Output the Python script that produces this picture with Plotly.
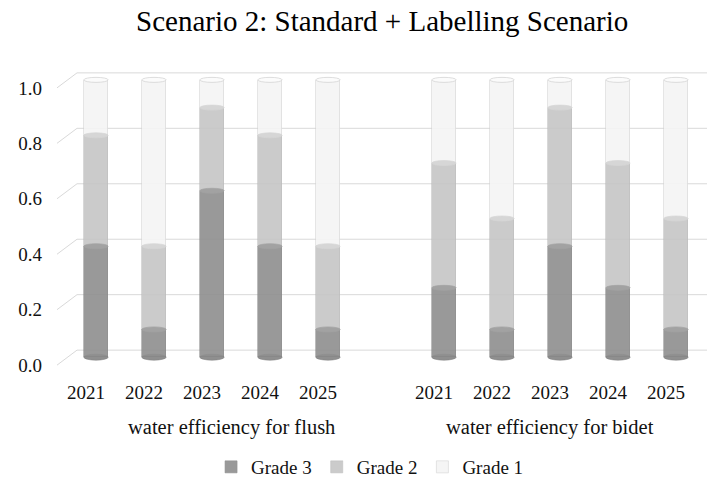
import plotly.graph_objects as go

# Category labels
years = ["2021", "2022", "2023", "2024", "2025"]
group_names = ["water efficiency for flush", "water efficiency for bidet"]
series_names = ["Grade 3", "Grade 2", "Grade 1"]

# Shares by grade, one list per product group
flush_grade3 = [0.4, 0.1, 0.6, 0.4, 0.1]
flush_grade2 = [0.4, 0.3, 0.3, 0.4, 0.3]
flush_grade1 = [0.2, 0.6, 0.1, 0.2, 0.6]

bidet_grade3 = [0.25, 0.1, 0.4, 0.25, 0.1]
bidet_grade2 = [0.45, 0.4, 0.5, 0.45, 0.4]
bidet_grade1 = [0.3, 0.5, 0.1, 0.3, 0.5]

y_ticks = [0.0, 0.2, 0.4, 0.6, 0.8, 1.0]

# Styling
colors = ["#8f8f8f", "#c6c6c6", "#f5f5f5"]
cap_colors = ["#a2a2a2", "#d6d6d6", "#fbfbfb"]
edge_colors = ["#838383", "#b8b8b8", "#d0d0d0"]
serif = "Liberation Serif, Times New Roman, serif"
text_col = "#111111"
bar_w = 0.42
depth_dx, depth_dy = 10, 7  # half-depth of the pseudo-3D box, in px

# Slot positions: flush group, one empty slot, bidet group
pos_flush = list(range(0, 5))
pos_bidet = list(range(6, 11))
positions = pos_flush + pos_bidet
tick_text = years + years

series = [
    flush_grade3 + bidet_grade3,
    flush_grade2 + bidet_grade2,
    flush_grade1 + bidet_grade1,
]

fig = go.Figure()
for name, vals, col, edge in zip(series_names, series, colors, edge_colors):
    fig.add_trace(go.Bar(
        x=positions, y=vals, name=name, width=bar_w,
        marker=dict(color=col, line=dict(color=edge, width=0.6)),
        opacity=0.9,
    ))

shapes = []

# Back-wall gridlines and the slanted side edges
for v in y_ticks:
    shapes.append(dict(
        type="line", xref="paper", xsizemode="pixel", xanchor=0,
        x0=depth_dx, x1=640,
        yref="y", ysizemode="pixel", yanchor=v, y0=depth_dy, y1=depth_dy,
        line=dict(color="#d9d9d9", width=1), layer="below",
    ))
    shapes.append(dict(
        type="line", xref="paper", xsizemode="pixel", xanchor=0,
        x0=-depth_dx, x1=depth_dx,
        yref="y", ysizemode="pixel", yanchor=v, y0=-depth_dy - 1, y1=depth_dy,
        line=dict(color="#d9d9d9", width=1), layer="below",
    ))

# Elliptical faces that give each stacked segment a cylinder look
for i, p in enumerate(positions):
    shapes.append(dict(
        type="circle", xref="x", x0=p - bar_w / 2, x1=p + bar_w / 2,
        yref="y", ysizemode="pixel", yanchor=0, y0=-3, y1=3,
        fillcolor=colors[0], line=dict(color=edge_colors[0], width=0.6),
        layer="below",
    ))
    cum = 0.0
    for k in range(len(series)):
        cum += series[k][i]
        shapes.append(dict(
            type="circle", xref="x", x0=p - bar_w / 2, x1=p + bar_w / 2,
            yref="y", ysizemode="pixel", yanchor=round(cum, 6), y0=-2.5, y1=2.5,
            fillcolor=cap_colors[k],
            line=dict(color=edge_colors[k] if k == 2 else cap_colors[k], width=0.7),
            layer="above",
        ))

# Group labels under the year labels
annotations = []
for name, center in [(group_names[0], 2.5), (group_names[1], 8.0)]:
    annotations.append(dict(
        text=name, x=center, xref="x", y=0, yref="paper",
        xshift=-depth_dx, yshift=-56, yanchor="middle", showarrow=False,
        font=dict(family=serif, size=20.5, color=text_col),
    ))

fig.update_layout(
    width=708, height=484,
    margin=dict(l=67, r=3, t=66, b=113, autoexpand=False),
    paper_bgcolor="white", plot_bgcolor="rgba(0,0,0,0)",
    barmode="stack", bargap=0,
    title=dict(
        text="Scenario 2: Standard + Labelling Scenario",
        x=0.494, xref="paper", xanchor="center",
        y=1 - 21 / 484, yref="container", yanchor="middle",
        font=dict(family=serif, size=29, color="#000000"),
    ),
    xaxis=dict(
        range=[-0.5, 10.5], tickmode="array", tickvals=positions, ticktext=tick_text,
        showgrid=False, zeroline=False, showline=False, ticks="",
        ticklabelshift=-depth_dx, ticklabelstandoff=8, automargin=False,
        tickfont=dict(family=serif, size=19, color=text_col),
    ),
    yaxis=dict(
        range=[-0.05, 1.05], tickmode="array", tickvals=y_ticks,
        ticktext=[f"{v:.1f}" for v in y_ticks],
        showgrid=False, zeroline=False, showline=False, ticks="",
        ticklabelshift=depth_dy + 1, ticklabelstandoff=24, automargin=False,
        tickfont=dict(family=serif, size=19, color=text_col),
    ),
    legend=dict(
        orientation="h", x=0.475, xanchor="center",
        y=1 - 467 / 484, yref="container", yanchor="middle",
        font=dict(family=serif, size=19, color=text_col),
        traceorder="normal", itemwidth=30,
    ),
    shapes=shapes,
    annotations=annotations,
    showlegend=True,
)

fig.write_html("out.html")
